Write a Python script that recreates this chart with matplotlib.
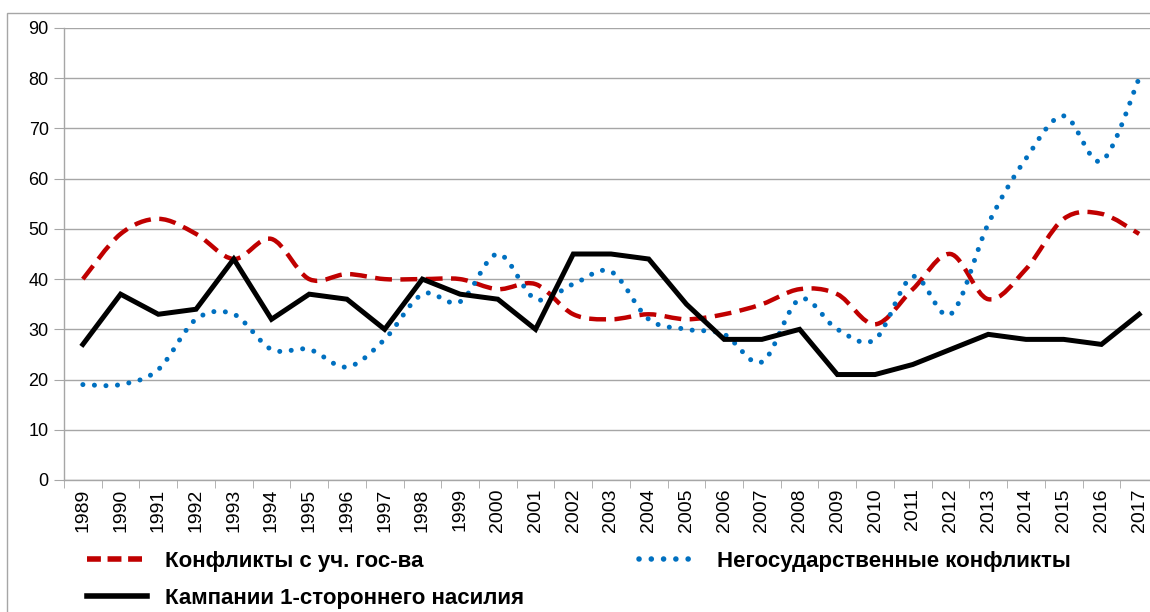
import matplotlib
matplotlib.use('Agg')
import matplotlib.pyplot as plt
from matplotlib.path import Path
from matplotlib.patches import PathPatch, Rectangle
from matplotlib.lines import Line2D
import numpy as np

plt.rcParams['font.family'] = ['Liberation Sans', 'DejaVu Sans']

years = list(range(1989, 2018))
state = [40, 49, 52, 49, 44, 48, 40, 41, 40, 40, 40, 38, 39, 33, 32, 33, 32, 33, 35, 38,
         37, 31, 38, 45, 36, 42, 52, 53, 49]
nonstate = [19, 19, 22, 32, 33, 26, 26, 22.5, 28, 37, 35.5, 45, 36, 39, 41.5, 32, 30, 29,
            23.5, 36, 30, 28, 40.5, 33, 51, 64, 72.5, 63.5, 80]
onesided = [27, 37, 33, 34, 44, 32, 37, 36, 30, 40, 37, 36, 30, 45, 45, 44, 35, 28, 28, 30,
            21, 21, 23, 26, 29, 28, 28, 27, 33]

lab_state = 'Конфликты с уч. гос-ва'
lab_nonstate = 'Негосударственные конфликты'
lab_onesided = 'Кампании 1-стороннего насилия'

red = '#C00000'
blue = '#0070C0'


def smooth_path(xs, ys):
    # Excel-style smoothed line: cubic bezier through every point
    p = np.column_stack([xs, ys]).astype(float)
    n = len(p)
    verts = [p[0]]
    codes = [Path.MOVETO]
    for i in range(n - 1):
        p0 = p[i - 1] if i > 0 else p[i]
        p3 = p[i + 2] if i + 2 < n else p[i + 1]
        c1 = p[i] + (p[i + 1] - p0) / 6
        c2 = p[i + 1] - (p3 - p[i]) / 6
        verts += [c1, c2, p[i + 1]]
        codes += [Path.CURVE4] * 3
    return Path(verts, codes)


fig = plt.figure(figsize=(11.5, 6.12), dpi=100)
ax = fig.add_axes([64 / 1150, 132 / 612, 1094 / 1150, 452 / 612])

x = np.arange(len(years))
ax.add_patch(PathPatch(smooth_path(x, state), fill=False, edgecolor=red, lw=3.2,
                       linestyle=(0, (3.8, 1.9)), capstyle='butt', zorder=3))
ax.add_patch(PathPatch(smooth_path(x, nonstate), fill=False, edgecolor=blue, lw=3.6,
                       linestyle=(0, (0.01, 2.3)), capstyle='round', zorder=4))
ax.plot(x, onesided, color='black', lw=3.6, solid_joinstyle='miter', zorder=5)

ax.set_xlim(-0.5, len(years) - 0.5)
ax.set_ylim(0, 90)
ax.set_yticks(range(0, 91, 10))
ax.yaxis.grid(True, color='#A6A6A6', lw=1)
ax.set_axisbelow(True)
ax.set_xticks(x)
ax.set_xticklabels([str(y) for y in years], rotation=90, fontsize=14)
ax.set_xticks(np.arange(-0.5, len(years), 1), minor=True)
ax.tick_params(axis='x', which='major', length=0, pad=6)
ax.tick_params(axis='x', which='minor', length=6, color='#A6A6A6')
ax.tick_params(axis='y', length=7, color='#A6A6A6', labelsize=13, pad=4)
for s in ['top', 'right']:
    ax.spines[s].set_visible(False)
for s in ['left', 'bottom']:
    ax.spines[s].set_color('#A6A6A6')
    ax.spines[s].set_linewidth(1)

handles = [
    Line2D([], [], color=red, lw=4, linestyle=(0, (2.5, 1.2))),
    Line2D([], [], color='black', lw=4),
    Line2D([], [], color=blue, lw=4, linestyle=(0, (0.01, 2.2)), dash_capstyle='round'),
]
fig.legend(handles, [lab_state, lab_onesided, lab_nonstate], ncol=2,
           loc='upper left', bbox_to_anchor=(67 / 1150, 1 - 531 / 612),
           frameon=False, handlelength=2.7, handletextpad=0.8, columnspacing=5.2,
           labelspacing=0.72, prop={'weight': 'bold', 'size': 16})

fig.patches.append(Rectangle((7 / 1150, -0.1), 1.2, 1 - 13 / 612 + 0.1,
                             transform=fig.transFigure, fill=False,
                             edgecolor='#A6A6A6', lw=1))

fig.savefig('out.png', dpi=100)
